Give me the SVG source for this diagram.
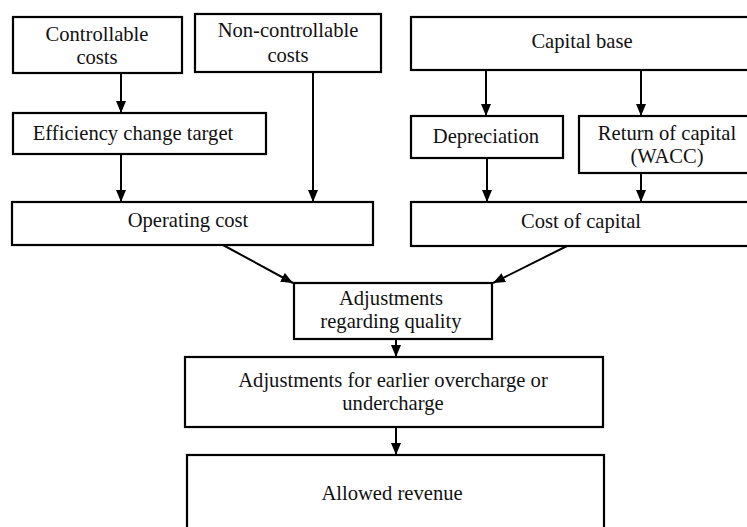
<svg xmlns="http://www.w3.org/2000/svg" width="747" height="527" viewBox="0 0 747 527">
<style>
.box{fill:#fff;stroke:#000;stroke-width:2.2}
.t{font-family:'Liberation Serif','Times New Roman',serif;font-size:20.6px;fill:#111;text-anchor:middle}
.c{stroke:#000;stroke-width:2;fill:none;marker-end:url(#ah)}
</style>
<defs>
<marker id="ah" viewBox="0 0 12 10" refX="12" refY="5" markerWidth="12" markerHeight="10" markerUnits="userSpaceOnUse" orient="auto">
<path d="M0,0 L12,5 L0,10 Z" fill="#000"/>
</marker>
</defs>
<rect width="747" height="527" fill="#fff"/>
<g id="connectors">
<line class="c" x1="121" y1="73" x2="121" y2="113"/>
<line class="c" x1="121" y1="154" x2="121" y2="202"/>
<line class="c" x1="313" y1="72" x2="313" y2="202"/>
<line class="c" x1="486" y1="70" x2="486" y2="116"/>
<line class="c" x1="641" y1="70" x2="641" y2="116"/>
<line class="c" x1="487" y1="158" x2="487" y2="202"/>
<line class="c" x1="641" y1="173" x2="641" y2="202"/>
<line class="c" x1="223" y1="245" x2="293" y2="283"/>
<line class="c" x1="567" y1="246" x2="493" y2="283"/>
<line class="c" x1="396" y1="339" x2="396" y2="357"/>
<line class="c" x1="396" y1="427" x2="396" y2="455"/>
</g>
<g id="controllable">
<rect class="box" x="13" y="17" width="169" height="56"/>
<text class="t" x="97" y="41">Controllable</text>
<text class="t" x="97" y="64">costs</text>
</g>
<g id="noncontrollable">
<rect class="box" x="195" y="14" width="186" height="58"/>
<text class="t" x="288" y="37">Non-controllable</text>
<text class="t" x="288" y="62">costs</text>
</g>
<g id="efficiency">
<rect class="box" x="13" y="113" width="253" height="41"/>
<text class="t" x="133" y="140">Efficiency change target</text>
</g>
<g id="operating">
<rect class="box" x="12" y="202" width="361" height="43"/>
<text class="t" x="188" y="227">Operating cost</text>
</g>
<g id="capitalbase">
<rect class="box" x="411" y="17" width="340" height="53"/>
<text class="t" x="582" y="48">Capital base</text>
</g>
<g id="depreciation">
<rect class="box" x="411" y="116" width="152" height="42"/>
<text class="t" x="486" y="143">Depreciation</text>
</g>
<g id="return">
<rect class="box" x="579" y="116" width="172" height="57"/>
<text class="t" x="667" y="140">Return of capital</text>
<text class="t" x="667" y="163">(WACC)</text>
</g>
<g id="costcapital">
<rect class="box" x="411" y="202" width="340" height="44"/>
<text class="t" x="581" y="228">Cost of capital</text>
</g>
<g id="quality">
<rect class="box" x="294" y="283" width="198" height="56"/>
<text class="t" x="391" y="305">Adjustments</text>
<text class="t" x="391" y="328">regarding quality</text>
</g>
<g id="earlier">
<rect class="box" x="185" y="357" width="418" height="70"/>
<text class="t" x="393" y="387">Adjustments for earlier overcharge or</text>
<text class="t" x="393" y="410">undercharge</text>
</g>
<g id="allowed">
<rect class="box" x="187" y="455" width="417" height="80"/>
<text class="t" x="392" y="500">Allowed revenue</text>
</g>
</svg>
